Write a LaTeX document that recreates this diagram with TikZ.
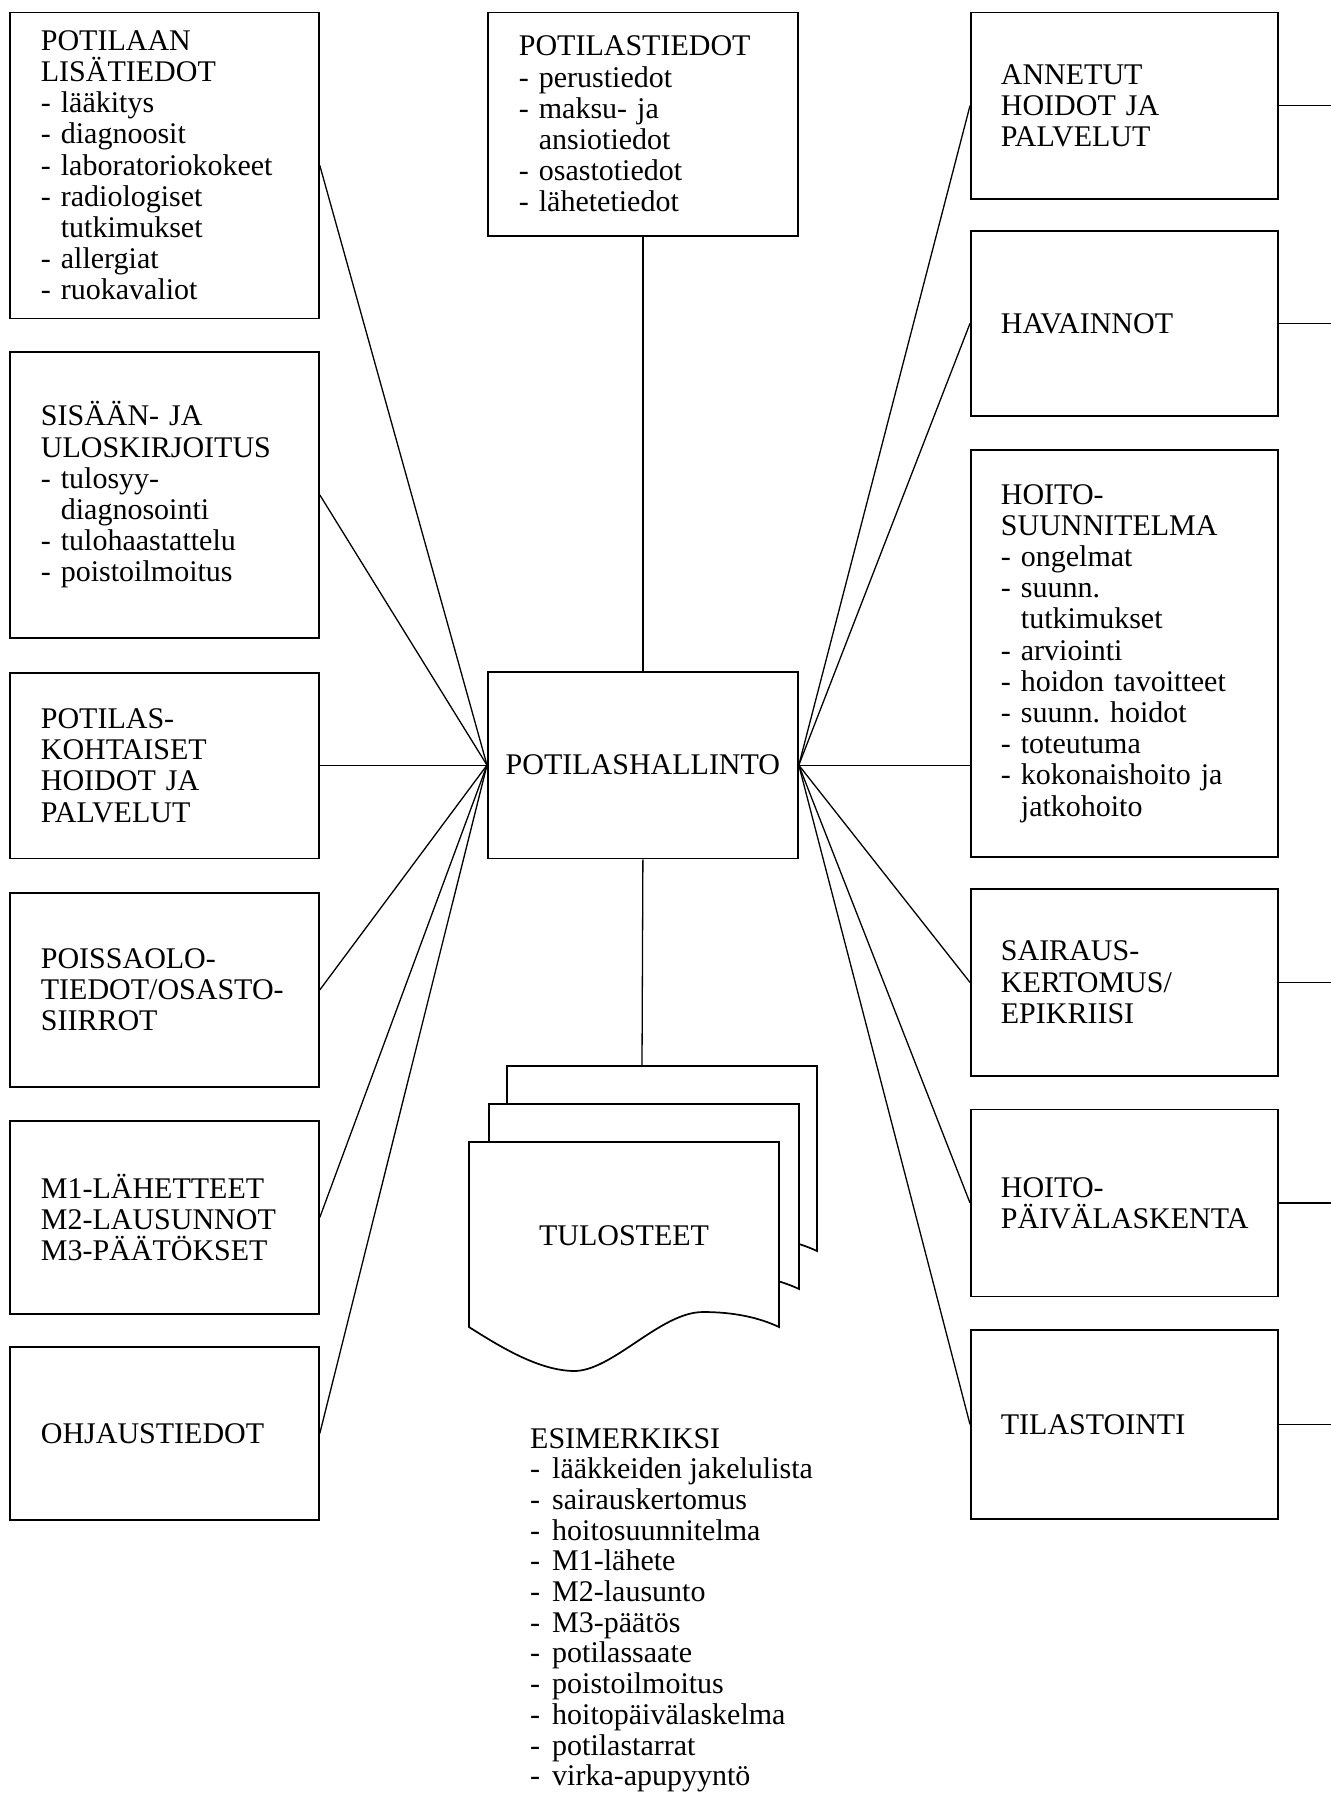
\documentclass[tikz,border=0pt]{standalone}
\usepackage{fontspec}
\setmainfont{Liberation Serif}
\frenchspacing
\newcommand\dl{\makebox[20pt][l]{-}}
\newcommand\ind{\hspace*{20pt}}
\newcommand\dlb{\makebox[22pt][l]{-}}
\begin{document}
\begin{tikzpicture}[x=1pt,y=-1pt,
  every node/.style={font=\fontsize{30}{31.2}\selectfont},
  box/.style={draw, line width=1.8pt, anchor=north west, inner ysep=0pt},
  lbox/.style={box, align=left, inner xsep=31pt, text width=247pt},
  tbox/.style={box, align=left, inner xsep=31pt, text width=248pt},
  rbox/.style={box, align=left, inner xsep=30pt, text width=247pt},
  hubbox/.style={box, align=center, minimum width=310pt},
  conn/.style={line width=1.3pt},
  pagestyle/.style={draw, fill=white, line width=1.7pt, line join=miter}
]
\useasboundingbox (0,0) rectangle (1331,1797);

% left column
\node[lbox, minimum height=306pt] (l1) at (9,11.5) {POTILAAN\\LISÄTIEDOT\\\dl lääkitys\\\dl diagnoosit\\\dl laboratoriokokeet\\\dl radiologiset\\\ind tutkimukset\\\dl allergiat\\\dl ruokavaliot};
\node[lbox, minimum height=286pt] (l2) at (9,351) {SISÄÄN- JA\\ULOSKIRJOITUS\\\dl tulosyy-\\\ind diagnosointi\\\dl tulohaastattelu\\\dl poistoilmoitus};
\node[lbox, minimum height=185.5pt] (l3) at (9,672) {POTILAS-\\KOHTAISET\\HOIDOT JA\\PALVELUT};
\node[lbox, minimum height=194pt] (l4) at (9,892) {POISSAOLO-\\TIEDOT/OSASTO-\\SIIRROT};
\node[lbox, minimum height=193pt] (l5) at (9,1120) {M1-LÄHETTEET\\M2-LAUSUNNOT\\M3-PÄÄTÖKSET};
\node[lbox, minimum height=173pt] (l6) at (9,1346) {OHJAUSTIEDOT};

% centre column
\node[tbox, minimum height=223.5pt] (ptd) at (487,11.5) {POTILASTIEDOT\\\dl perustiedot\\\dl maksu- ja\\\ind ansiotiedot\\\dl osastotiedot\\\dl lähetetiedot};
\node[hubbox, minimum height=186.5pt] (hub) at (487,671) {POTILASHALLINTO};

% right column
\node[rbox, minimum height=186.5pt] (r1) at (970,11.5) {ANNETUT\\HOIDOT JA\\PALVELUT};
\node[rbox, minimum height=185pt] (r2) at (970,230) {HAVAINNOT};
\node[rbox, minimum height=407pt] (r3) at (970,449) {HOITO-\\SUUNNITELMA\\\dl ongelmat\\\dl suunn.\\\ind tutkimukset\\\dl arviointi\\\dl hoidon tavoitteet\\\dl suunn. hoidot\\\dl toteutuma\\\dl kokonaishoito ja\\\ind jatkohoito};
\node[rbox, minimum height=187pt] (r4) at (970,888) {SAIRAUS-\\KERTOMUS/\\EPIKRIISI};
\node[rbox, minimum height=187pt] (r5) at (970,1108.5) {HOITO-\\PÄIVÄLASKENTA};
\node[rbox, minimum height=189pt] (r6) at (970,1329) {TILASTOINTI};

% document stack (printouts)
\foreach \dx/\dy in {38/-76, 20/-38, 0/0} {
  \draw[pagestyle, shift={(\dx,\dy)}] (469,1142) -- (779,1142) -- (779,1327)
    .. controls (760,1318) and (735,1312) .. (703,1312)
    .. controls (660,1312) and (612,1372) .. (573,1371)
    .. controls (540,1370) and (505,1350) .. (469,1327) -- cycle;
}
\node (tul) at (624,1236) {TULOSTEET};
\coordinate (stk) at (642,1066);

% examples list
\node[anchor=north west, align=left, inner sep=0pt, font=\fontsize{30}{30.7}\selectfont] (esim) at (530,1428)
  {ESIMERKIKSI\\\dlb lääkkeiden jakelulista\\\dlb sairauskertomus\\\dlb hoitosuunnitelma\\\dlb M1-lähete\\\dlb M2-lausunto\\\dlb M3-päätös\\\dlb potilassaate\\\dlb poistoilmoitus\\\dlb hoitopäivälaskelma\\\dlb potilastarrat\\\dlb virka-apupyyntö};

% connectors
\foreach \n in {l1,l2,l4,l5,l6} { \draw[conn] (\n.east) -- (hub.west); }
\draw[conn] (hub.west) -- (hub.west -| l3.east);
\foreach \n in {r1,r2,r4,r5,r6} { \draw[conn] (hub.east) -- (\n.west); }
\draw[conn] (hub.east) -- (hub.east -| r3.west);
\draw[conn] (ptd.south) -- (hub.north);
\draw[conn] (hub.south) -- (stk);

% stubs leaving the right column
\coordinate (edge) at (1331,0);
\foreach \n in {r1,r2,r4,r5,r6} { \draw[conn] (\n.east) -- (\n.east -| edge); }
\end{tikzpicture}
\end{document}
